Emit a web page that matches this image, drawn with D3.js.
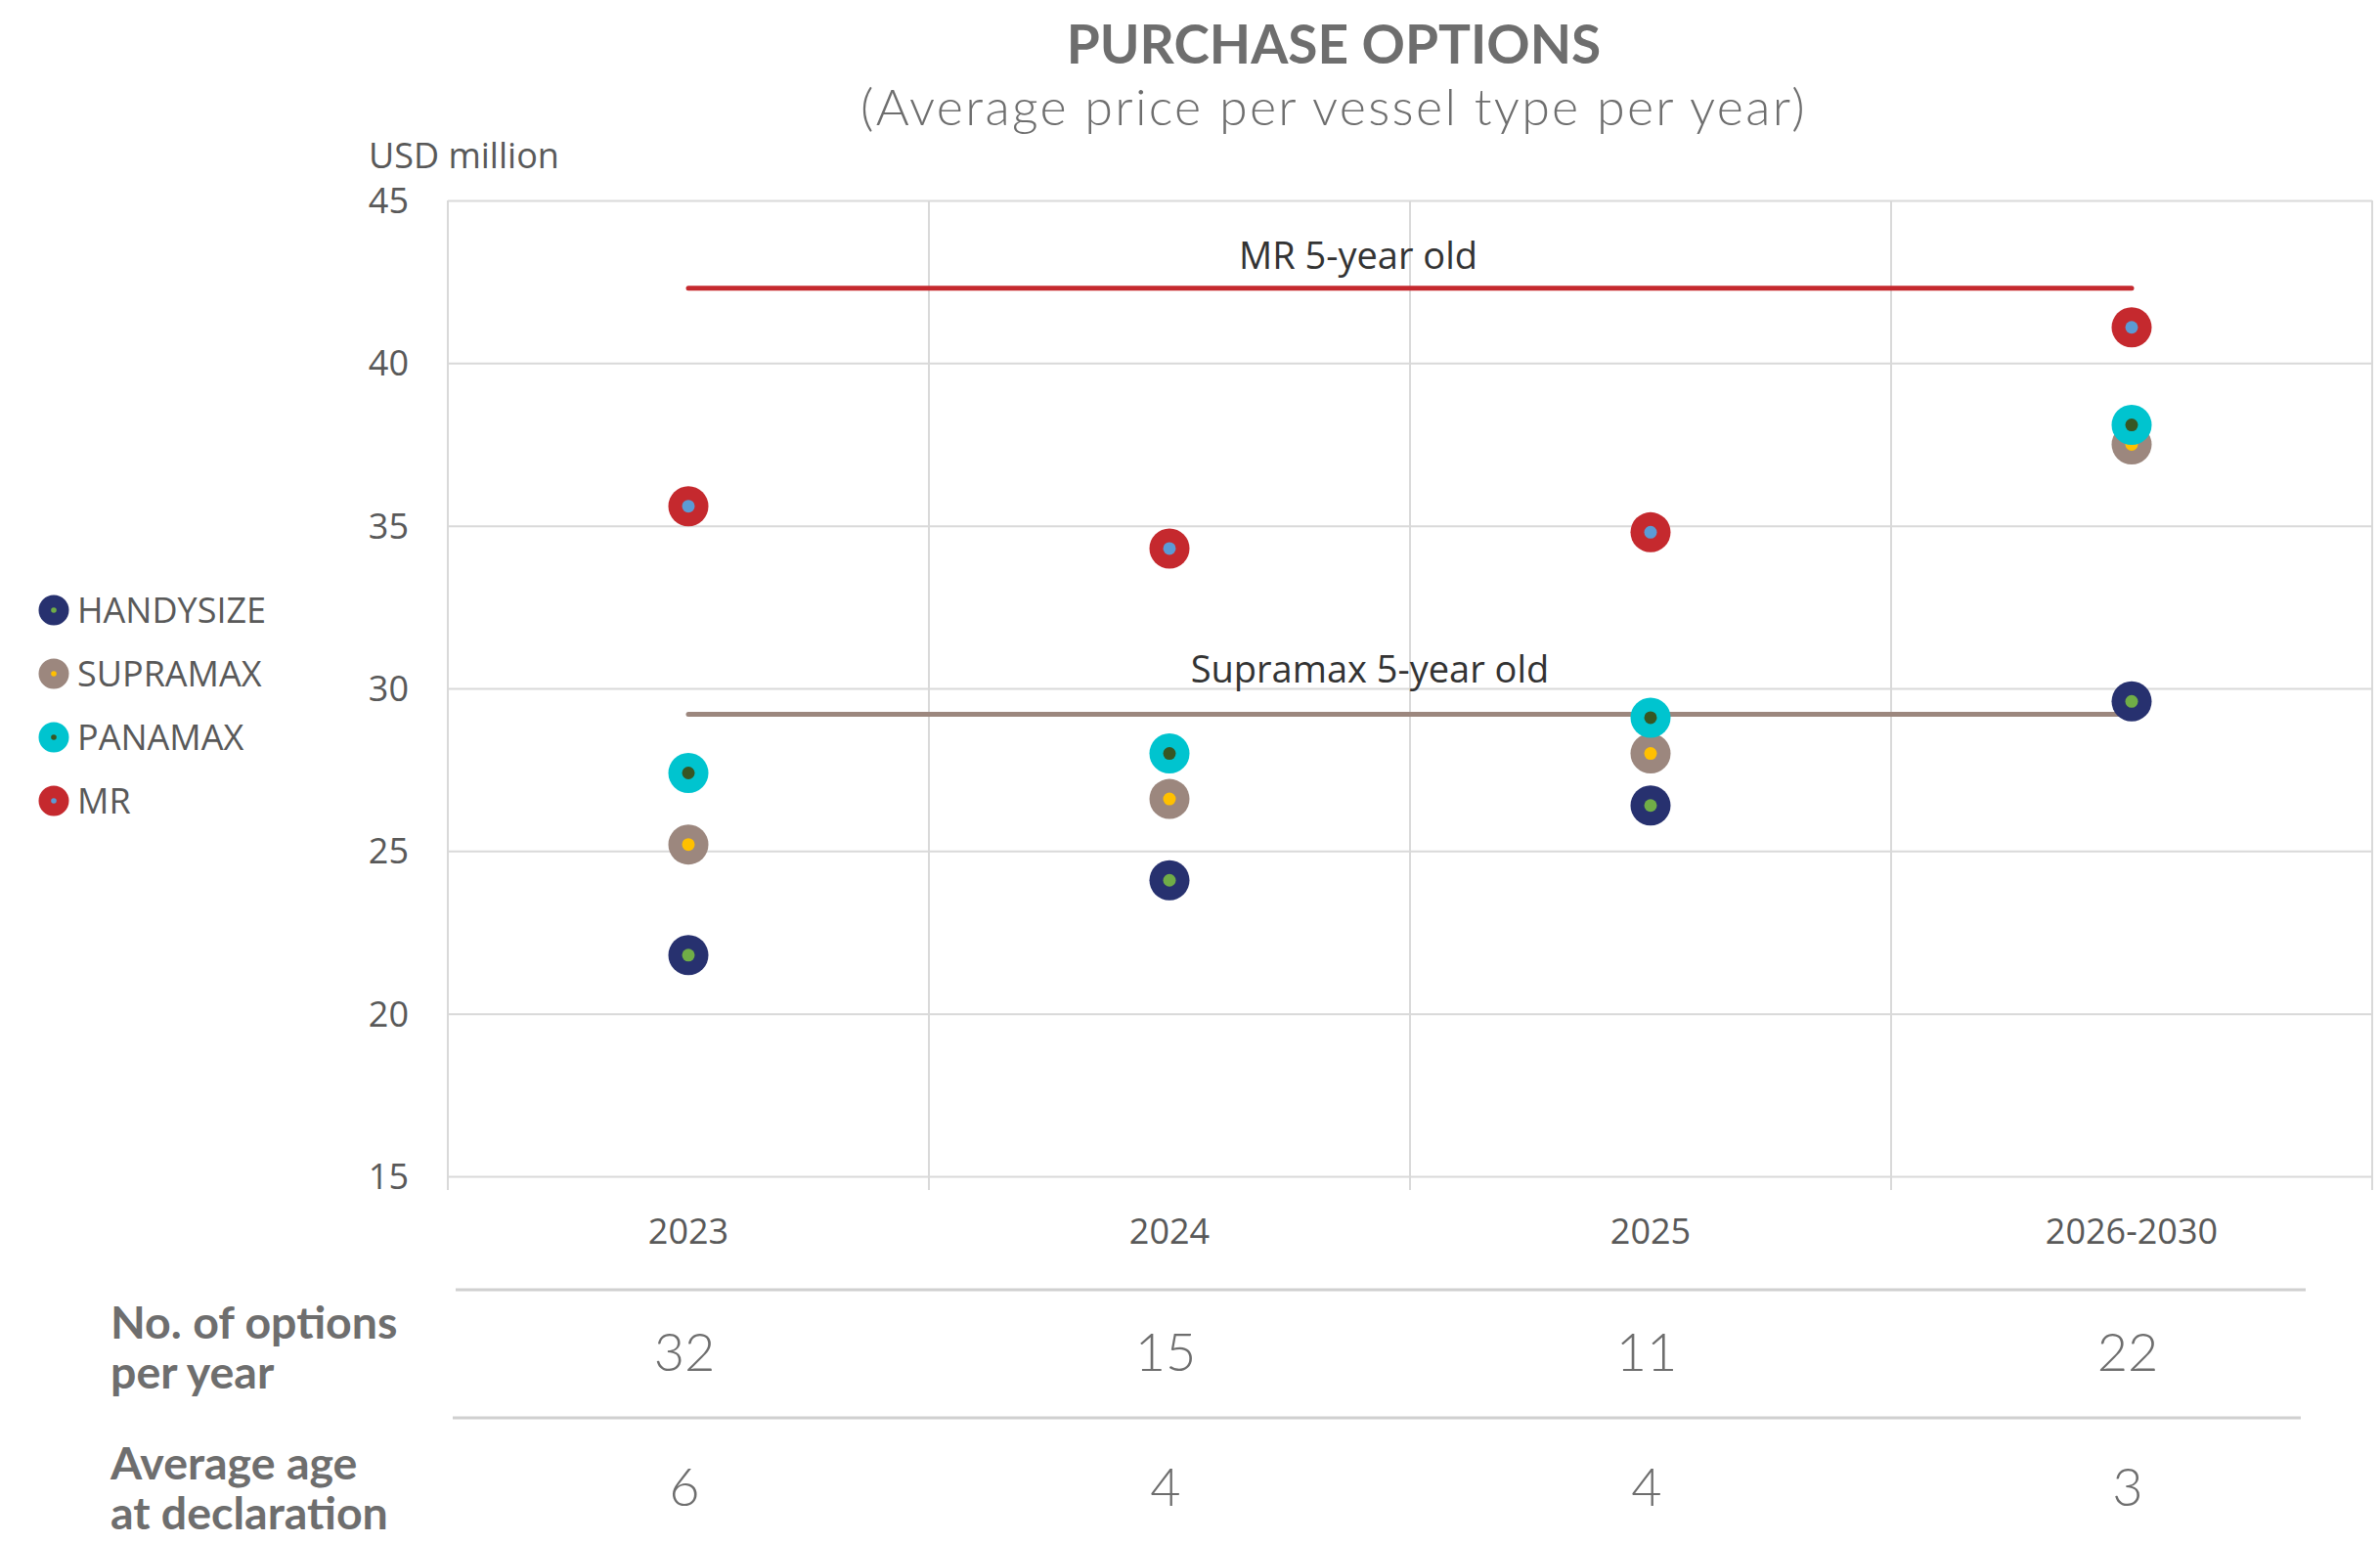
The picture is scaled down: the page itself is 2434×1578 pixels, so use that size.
<!DOCTYPE html>
<html>
<head>
<meta charset="utf-8">
<script src="https://cdn.jsdelivr.net/npm/d3@7"></script>
<style>
  body { margin: 0; background: #fff; }
  svg { display: block; }
  .grid line { stroke: #d9d9d9; stroke-width: 2; }
  .grid path { display: none; }
  .tick-label { font-family: "Open Sans", sans-serif; font-size: 36px; fill: #595959; }
</style>
</head>
<body>
<div id="chart"></div>
<script>
// categories and values
const categories = ['2023', '2024', '2025', '2026-2030'];
const handysize = [21.8, 24.1, 26.4, 29.6];
const supramax = [25.2, 26.6, 28.0, 37.5];
const panamax = [27.4, 28.0, 29.1, 38.1];
const mr = [35.6, 34.3, 34.8, 41.1];
const yTicks = [15, 20, 25, 30, 35, 40, 45];

// 5-year old reference prices
const refMR = 42.3;
const refSupramax = 29.2;

// table under the chart
const optionsPerYear = [32, 15, 11, 22];
const averageAge = [6, 4, 4, 3];

const series = [
    { name: 'HANDYSIZE', values: handysize, outer: '#27316f', inner: '#70ad47' },
    { name: 'SUPRAMAX', values: supramax, outer: '#9c877e', inner: '#ffc000' },
    { name: 'PANAMAX', values: panamax, outer: '#00c4cf', inner: '#375623' },
    { name: 'MR', values: mr, outer: '#c5292e', inner: '#5b9bd5' }
];

const width = 2434, height = 1578;
const plot = { left: 458, right: 2426, top: 205, bottom: 1203 };

const svg = d3.select('#chart').append('svg')
    .attr('width', width)
    .attr('height', height);

const x = d3.scaleBand()
    .domain(categories)
    .range([plot.left, plot.right]);
const cx = d => x(d) + x.bandwidth() / 2;

const y = d3.scaleLinear()
    .domain([15, 45])
    .range([plot.bottom, plot.top]);

// horizontal grid
svg.append('g')
    .attr('class', 'grid')
    .attr('transform', 'translate(' + plot.left + ',0)')
    .call(d3.axisLeft(y).tickValues(yTicks).tickSize(-(plot.right - plot.left)).tickFormat(''));

// vertical grid at band edges, running a bit below the axis like tick marks
const edges = categories.map(d => x(d)).concat([plot.right]);
svg.append('g')
    .attr('class', 'grid')
    .selectAll('line')
    .data(edges)
    .join('line')
    .attr('x1', d => d).attr('x2', d => d)
    .attr('y1', plot.top).attr('y2', plot.bottom + 14);

// y tick labels
svg.append('g')
    .selectAll('text')
    .data(yTicks)
    .join('text')
    .attr('class', 'tick-label')
    .attr('x', plot.left - 40)
    .attr('y', d => y(d))
    .attr('dy', '0.36em')
    .attr('text-anchor', 'end')
    .text(d => d);

// x tick labels
svg.append('g')
    .selectAll('text')
    .data(categories)
    .join('text')
    .attr('class', 'tick-label')
    .attr('x', d => cx(d))
    .attr('y', 1272)
    .attr('text-anchor', 'middle')
    .text(d => d);

svg.append('text')
    .attr('class', 'tick-label')
    .attr('x', 377)
    .attr('y', 172)
    .text('USD million');

// titles
svg.append('text')
    .attr('x', 1364).attr('y', 65)
    .attr('text-anchor', 'middle')
    .style('font-family', 'Lato, sans-serif')
    .style('font-weight', 700)
    .style('font-size', '55px')
    .style('fill', '#6e6e6e')
    .text('PURCHASE OPTIONS');

svg.append('text')
    .attr('x', 1364).attr('y', 128)
    .attr('text-anchor', 'middle')
    .style('font-family', 'Lato, sans-serif')
    .style('font-weight', 300)
    .style('font-size', '52px')
    .style('letter-spacing', '2.3px')
    .style('fill', '#6e6e6e')
    .text('(Average price per vessel type per year)');

// reference lines
const refs = [
    { label: 'MR 5-year old', value: refMR, color: '#c5292e', dx: -53, dy: -20 },
    { label: 'Supramax 5-year old', value: refSupramax, color: '#9c877e', dx: -41, dy: -33 }
];
const first = cx(categories[0]), last = cx(categories[categories.length - 1]);

svg.append('g')
    .selectAll('line')
    .data(refs)
    .join('line')
    .attr('x1', first).attr('x2', last)
    .attr('y1', d => y(d.value)).attr('y2', d => y(d.value))
    .attr('stroke', d => d.color)
    .attr('stroke-width', 5)
    .attr('stroke-linecap', 'round');

svg.append('g')
    .selectAll('text')
    .data(refs)
    .join('text')
    .attr('x', d => (first + last) / 2 + d.dx)
    .attr('y', d => y(d.value) + d.dy)
    .attr('text-anchor', 'middle')
    .style('font-family', '"Open Sans", sans-serif')
    .style('font-size', '38px')
    .style('fill', '#333')
    .text(d => d.label);

// markers: outer disc with small inner dot
const markers = svg.append('g')
    .selectAll('g')
    .data(series)
    .join('g');

markers.selectAll('.outer')
    .data(s => s.values.map((v, i) => ({ v: v, c: categories[i], s: s })))
    .join('circle')
    .attr('class', 'outer')
    .attr('cx', d => cx(d.c))
    .attr('cy', d => y(d.v))
    .attr('r', 20.5)
    .attr('fill', d => d.s.outer);

markers.selectAll('.inner')
    .data(s => s.values.map((v, i) => ({ v: v, c: categories[i], s: s })))
    .join('circle')
    .attr('class', 'inner')
    .attr('cx', d => cx(d.c))
    .attr('cy', d => y(d.v))
    .attr('r', 6.5)
    .attr('fill', d => d.s.inner);

// legend
const legend = svg.append('g')
    .selectAll('g')
    .data(series)
    .join('g')
    .attr('transform', (d, i) => 'translate(55,' + (624 + i * 65) + ')');
legend.append('circle').attr('r', 15.5).attr('fill', d => d.outer);
legend.append('circle').attr('r', 2.8).attr('fill', d => d.inner);
legend.append('text')
    .attr('class', 'tick-label')
    .attr('x', 24)
    .attr('dy', '0.36em')
    .text(d => d.name);

// table below chart
const table = svg.append('g');
table.selectAll('line')
    .data([{ y: 1319, x1: 466, x2: 2358 }, { y: 1450, x1: 463, x2: 2353 }])
    .join('line')
    .attr('x1', d => d.x1).attr('x2', d => d.x2)
    .attr('y1', d => d.y).attr('y2', d => d.y)
    .attr('stroke', '#d0d0d0')
    .attr('stroke-width', 3);

const rows = [
    { label: ['No. of options', 'per year'], values: optionsPerYear, base: 1369, valueY: 1402 },
    { label: ['Average age', 'at declaration'], values: averageAge, base: 1513, valueY: 1540 }
];

rows.forEach(r => {
    table.append('text')
        .attr('x', 113)
        .attr('y', r.base)
        .style('font-family', 'Lato, sans-serif')
        .style('font-weight', 700)
        .style('font-size', '46.5px')
        .style('fill', '#6e6e6e')
        .selectAll('tspan')
        .data(r.label)
        .join('tspan')
        .attr('x', 113)
        .attr('dy', (d, i) => i ? 51 : 0)
        .text(d => d);

    table.append('g')
        .selectAll('text')
        .data(r.values)
        .join('text')
        .attr('x', (d, i) => cx(categories[i]) - 4)
        .attr('y', r.valueY)
        .attr('text-anchor', 'middle')
        .style('font-family', 'Lato, sans-serif')
        .style('font-weight', 300)
        .style('font-size', '54px')
        .style('fill', '#6e6e6e')
        .text(d => d);
});
</script>
</body>
</html>
